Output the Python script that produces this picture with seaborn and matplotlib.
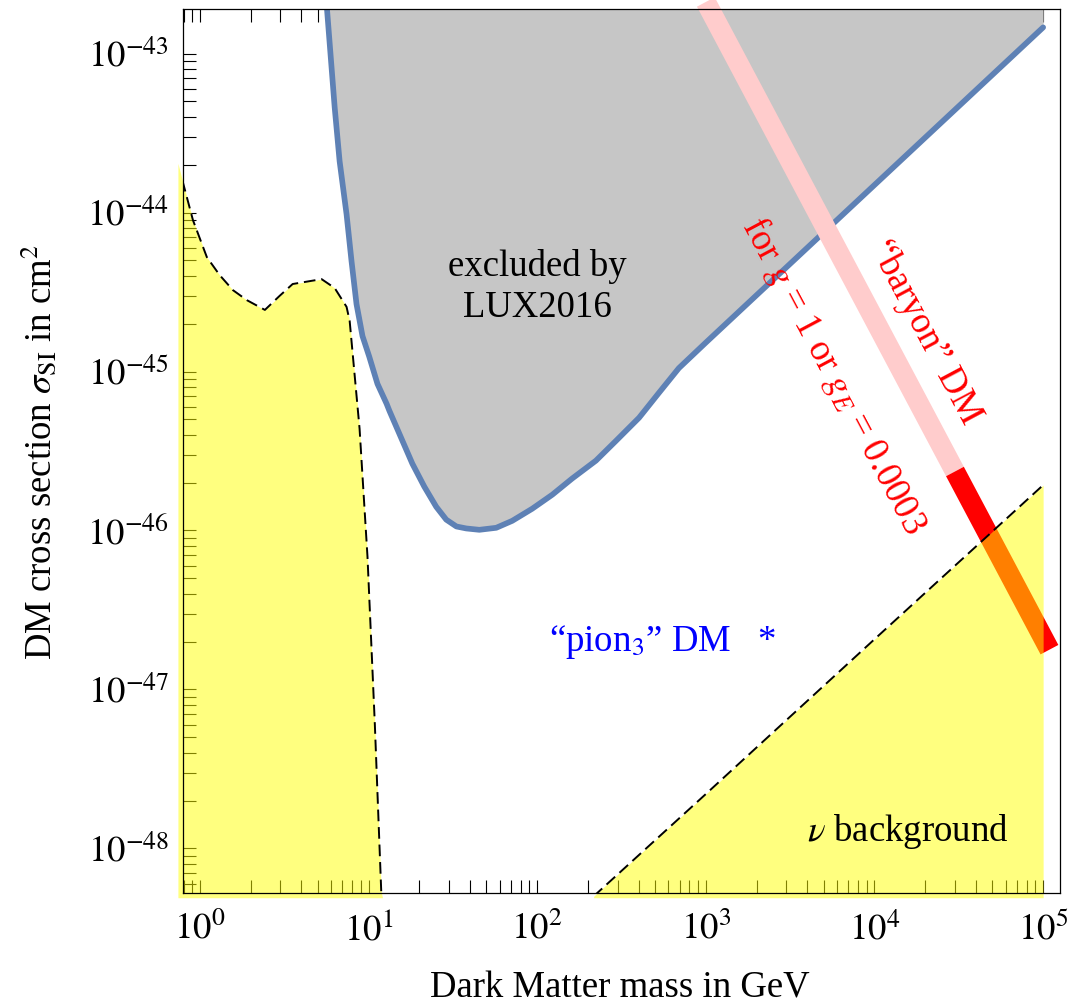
import numpy as np
import pandas as pd
import matplotlib
matplotlib.use("Agg")
import matplotlib.pyplot as plt
import matplotlib.ticker as mticker
import seaborn as sns

# ---------------- data ----------------
# LUX2016 exclusion limit
lux_mass = [5.56, 6.30, 6.74, 7.41, 7.93, 8.49, 9.21, 10.1, 11.3, 12.8, 13.3, 18.2,
            21.4, 25.2, 28.9, 33.2, 38.0, 45.4, 57.2, 71.1, 93.4, 123, 161, 223,
            293, 402, 527, 692, 1000, 10000, 100000]
lux_sigma = [2.5e-43, 4.58e-44, 2.10e-44, 9.75e-45, 4.94e-45, 2.65e-45, 1.67e-45,
             1.24e-45, 8.36e-46, 6.27e-46, 5.66e-46, 2.63e-46, 1.89e-46, 1.41e-46,
             1.17e-46, 1.06e-46, 1.03e-46, 1.01e-46, 1.04e-46, 1.15e-46, 1.37e-46,
             1.68e-46, 2.12e-46, 2.75e-46, 3.66e-46, 5.12e-46, 7.34e-46, 1.05e-45,
             1.52e-45, 1.49e-44, 1.46e-43]

# neutrino background, low-mass part
nu_low_mass = [0.741, 0.793, 0.910, 1.10, 1.31, 1.57, 1.90, 2.43, 2.97, 3.55,
               5.27, 6.30, 7.41, 7.73, 8.85, 9.86, 10.9, 11.9, 12.1]
nu_low_sigma = [2.04e-44, 1.55e-44, 8.95e-45, 5.24e-45, 4.04e-45, 3.25e-45,
                2.81e-45, 2.44e-45, 2.99e-45, 3.55e-45, 3.81e-45, 3.35e-45,
                2.55e-45, 2.08e-45, 4.37e-46, 6.85e-47, 6.05e-48, 5.33e-49, 4.9e-49]

# neutrino background, high-mass part
nu_high_mass = [216, 1000, 10000, 100000]
nu_high_sigma = [5.0e-49, 2.2e-48, 2.07e-47, 1.93e-46]

# "baryon" DM prediction band
baryon_mass_pink = [1000, 30000]
baryon_sigma_pink = [2.11e-43, 2.35e-46]
baryon_mass_red = [30000, 109000]
baryon_sigma_red = [2.35e-46, 1.78e-47]

# tick decades
x_decades = [0, 1, 2, 3, 4, 5]
y_decades = [-48, -47, -46, -45, -44, -43]

x_range = [10 ** -0.1, 10 ** 5.1]
y_range = [10 ** -48.28, 10 ** -42.72]
fill_floor = 4.9e-49
fill_ceiling = 10 ** -42.5

# ---------------- style ----------------
sns.set_theme(style="ticks")
plt.rcParams["font.family"] = ["Liberation Serif", "DejaVu Serif"]
plt.rcParams["mathtext.fontset"] = "stix"
for key in ["text.color", "axes.labelcolor", "xtick.color", "ytick.color", "axes.edgecolor"]:
    plt.rcParams[key] = "black"
FS = 26.5

fig = plt.figure(figsize=(10.77, 10.08), dpi=100)
ax = fig.add_axes([183 / 1077, 1 - 893 / 1008, 877 / 1077, 884 / 1008])
ax.set_xscale("log")
ax.set_yscale("log")

# LUX excluded region
ax.fill_between(lux_mass, lux_sigma, fill_ceiling, color="#C6C6C6", lw=0, zorder=1)
sns.lineplot(x=lux_mass, y=lux_sigma, ax=ax, color="#5E81B5", linewidth=4.1,
             sort=False, zorder=2)

# baryon band
sns.lineplot(x=baryon_mass_pink, y=baryon_sigma_pink, ax=ax, color="#FFCCCC",
             linewidth=14.5, solid_capstyle="butt", clip_on=False, zorder=3, sort=False)
sns.lineplot(x=baryon_mass_red, y=baryon_sigma_red, ax=ax, color="#FF0000",
             linewidth=14.5, solid_capstyle="butt", clip_on=False, zorder=3, sort=False)

# neutrino background
ax.fill_between(nu_low_mass, nu_low_sigma, fill_floor, color="yellow", alpha=0.5,
                lw=0, zorder=4, clip_on=False)
ax.fill_between(nu_high_mass, nu_high_sigma, fill_floor, color="yellow", alpha=0.5,
                lw=0, zorder=4, clip_on=False)
sns.lineplot(x=nu_low_mass, y=nu_low_sigma, ax=ax, color="black", linewidth=1.4,
             linestyle=(0, (6, 3)), sort=False, zorder=5)
sns.lineplot(x=nu_high_mass, y=nu_high_sigma, ax=ax, color="black", linewidth=1.4,
             linestyle=(0, (6, 3)), sort=False, zorder=5)

ax.set_xlim(x_range)
ax.set_ylim(y_range)

# ---------------- texts ----------------
ax.text(100, 3.4e-45, "excluded by\nLUX2016", ha="center", va="center",
        fontsize=FS, linespacing=1.25, zorder=6, color="black")
ax.text(117.8, 1.74e-47, "“pion$_3$” DM   *", ha="left", va="baseline",
        fontsize=FS, color="#0000FF", zorder=6)
ax.text(3960, 1.11e-48, r"$\nu$ background", ha="left", va="baseline",
        fontsize=FS, zorder=6, color="black")
ax.text(5800, 9.37e-46, r"for $g$ = 1 or $g_E$ = 0.0003", ha="center", va="center",
        rotation=-62, rotation_mode="anchor", fontsize=FS, color="#FF0000", zorder=6)
ax.text(2.0e4, 1.77e-45, "“baryon” DM", ha="center", va="center",
        rotation=-62, rotation_mode="anchor", fontsize=FS, color="#FF0000", zorder=6)

# ---------------- axes ----------------
ax.set_xlabel("Dark Matter mass in GeV", fontsize=FS, va="center", color="black")
ax.xaxis.set_label_coords(0.498, -0.1075)
ax.set_ylabel(r"DM cross section $\sigma_{\mathrm{SI}}$ in cm$^2$", fontsize=FS,
              va="center", color="black")
ax.yaxis.set_label_coords(-0.163, 0.499)


def minor_positions(lo, hi):
    vals = []
    for d in range(int(np.floor(np.log10(lo))) - 1, int(np.ceil(np.log10(hi))) + 1):
        for k in range(2, 10):
            v = k * 10.0 ** d
            if lo <= v <= hi:
                vals.append(v)
    return vals


ax.xaxis.set_major_locator(mticker.FixedLocator([10.0 ** d for d in x_decades]))
ax.yaxis.set_major_locator(mticker.FixedLocator([10.0 ** d for d in y_decades]))
ax.xaxis.set_minor_locator(mticker.FixedLocator(minor_positions(*x_range)))
ax.yaxis.set_minor_locator(mticker.FixedLocator(minor_positions(*y_range)))
ax.xaxis.set_major_formatter(mticker.FixedFormatter([r"$10^{%d}$" % d for d in x_decades]))
ax.yaxis.set_major_formatter(mticker.FixedFormatter([r"$10^{%d}$" % d for d in y_decades]))
ax.xaxis.set_minor_formatter(mticker.NullFormatter())
ax.yaxis.set_minor_formatter(mticker.NullFormatter())

ax.tick_params(axis="both", which="both", direction="in", length=9.4, width=0.8,
               color="black", labelcolor="black", top=True, right=False,
               bottom=True, left=True)
ax.tick_params(axis="x", which="major", labelsize=FS, pad=14)
ax.tick_params(axis="y", which="major", labelsize=FS, pad=10)

for s in ax.spines.values():
    s.set_visible(True)
    s.set_linewidth(0.9)
    s.set_color("black")
    s.set_zorder(7)

fig.savefig("out.png", dpi=100)
